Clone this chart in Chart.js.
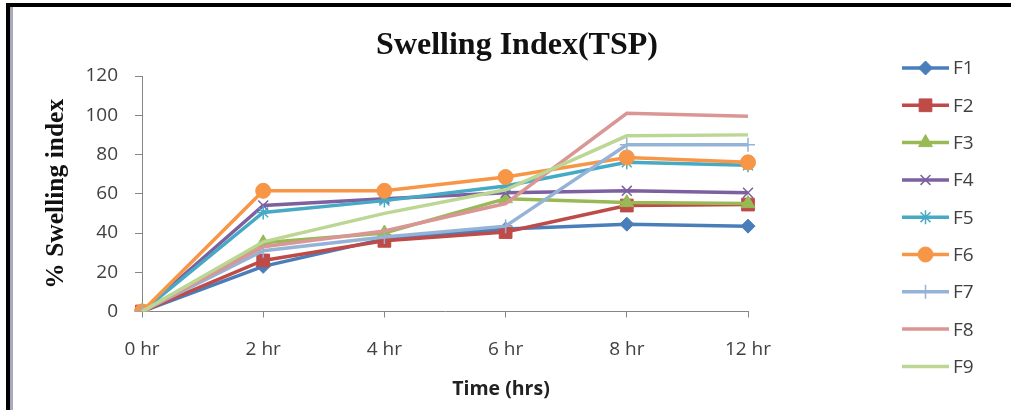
<!DOCTYPE html>
<html>
<head>
<meta charset="utf-8">
<title>Swelling Index(TSP)</title>
<script src="https://cdn.jsdelivr.net/npm/chart.js@4.4.0/dist/chart.umd.min.js"></script>
<style>
  html, body { margin: 0; padding: 0; background: #fff; }
  canvas { display: block; }
</style>
</head>
<body>
<canvas id="swelling-chart" width="1011" height="410"></canvas>
<script>
// values
const timeLabels = ['0 hr', '2 hr', '4 hr', '6 hr', '8 hr', '12 hr'];
const yTicks = [0, 20, 40, 60, 80, 100, 120];
const seriesNames = ['F1', 'F2', 'F3', 'F4', 'F5', 'F6', 'F7', 'F8', 'F9'];

const f1 = [0, 23, 37, 42, 44.5, 43.5];
const f2 = [0, 26, 36, 40.5, 54, 54.5];
const f3 = [0, 35, 40, 57.5, 55.5, 55];
const f4 = [0, 54, 57.5, 60.5, 61.5, 60.5];
const f5 = [0, 50.5, 56.5, 64, 76, 74.5];
const f6 = [0, 61.5, 61.5, 68.5, 78.5, 76];
const f7 = [0, 31, 38, 43.5, 85, 85];
const f8 = [0, 33, 41, 55, 101, 99.5];
const f9 = [0, 35.5, 50, 62, 89.5, 90];
const seriesValues = [f1, f2, f3, f4, f5, f6, f7, f8, f9];

// styling (excel 2007 palette)
const seriesColors = ['#4a7ebb', '#be4b48', '#98b954', '#7d60a0', '#46aac5',
                      '#f79646', '#95b3d7', '#d99694', '#bcd693'];
const markerStyles = ['rectRot', 'rect', 'triangle', 'crossRot', 'star', 'circle', 'cross', false, false];
const markerSizes = [7, 9, 8, 7, 7, 7.5, 7, 0, 0];
const markerBorders = [1, 1, 1, 1.5, 1.5, 1, 1.5, 0, 0];

Chart.defaults.font.family = '"Open Sans", sans-serif';
Chart.defaults.color = '#404040';

const datasets = seriesNames.map((name, i) => ({
    label: name,
    data: seriesValues[i],
    borderColor: seriesColors[i],
    backgroundColor: seriesColors[i],
    borderWidth: 3.5,
    pointStyle: markerStyles[i],
    pointRadius: markerSizes[i],
    pointBorderWidth: markerBorders[i],
    pointBackgroundColor: seriesColors[i],
    pointBorderColor: seriesColors[i],
    tension: 0,
    order: seriesNames.length - i
}));

const frameAndText = {
    id: 'frameAndText',
    beforeDraw(chart) {
        const ctx = chart.ctx;
        ctx.save();
        ctx.fillStyle = '#ffffff';
        ctx.fillRect(0, 0, chart.width, chart.height);
        ctx.fillStyle = '#000000';
        ctx.fillRect(6, 3, chart.width - 6, 4);
        ctx.fillRect(6, 3, 4, chart.height);
        ctx.fillStyle = '#a9a9bd';
        ctx.fillRect(10, 7, 3, chart.height);
        ctx.restore();
    },
    afterDraw(chart) {
        const ctx = chart.ctx;
        ctx.save();
        ctx.textAlign = 'center';
        ctx.textBaseline = 'middle';

        ctx.fillStyle = '#111111';
        ctx.font = 'bold 32px "Liberation Serif", "Times New Roman", serif';
        ctx.fillText('Swelling Index(TSP)', 517, 46);

        ctx.fillStyle = '#222222';
        ctx.font = 'bold 19.5px "Open Sans", sans-serif';
        ctx.fillText('Time (hrs)', 501, 389);

        // legend: line + marker + name
        ctx.textAlign = 'left';
        ctx.font = '19px "Open Sans", sans-serif';
        seriesNames.forEach((name, i) => {
            const y = 68 + i * 37.3;
            ctx.strokeStyle = seriesColors[i];
            ctx.lineWidth = 3.5;
            ctx.beginPath();
            ctx.moveTo(902, y);
            ctx.lineTo(949, y);
            ctx.stroke();
            if (markerStyles[i]) {
                ctx.fillStyle = seriesColors[i];
                ctx.lineWidth = markerBorders[i];
                Chart.helpers.drawPoint(ctx, {
                    pointStyle: markerStyles[i],
                    radius: markerSizes[i],
                    rotation: 0,
                    borderWidth: markerBorders[i]
                }, 925.5, y);
            }
            ctx.fillStyle = '#404040';
            ctx.fillText(name, 953, y + 1);
        });
        ctx.restore();
    }
};

const ctx = document.getElementById('swelling-chart').getContext('2d');
const chart = new Chart(ctx, {
    type: 'line',
    data: {
        labels: timeLabels,
        datasets: datasets
    },
    options: {
        responsive: false,
        animation: false,
        devicePixelRatio: 1,
        layout: {
            padding: { left: 12, right: 263, top: 76, bottom: 0 }
        },
        plugins: {
            legend: { display: false },
            title: { display: false },
            tooltip: { enabled: false }
        },
        scales: {
            x: {
                type: 'category',
                offset: false,
                afterFit: scale => { scale.height = 98.5; },
                grid: {
                    drawOnChartArea: false,
                    drawTicks: true,
                    tickLength: 6,
                    color: '#868686'
                },
                border: { display: true, color: '#868686', width: 1 },
                ticks: {
                    padding: 21,
                    maxRotation: 0,
                    autoSkip: false,
                    font: { size: 19 },
                    color: '#404040'
                }
            },
            y: {
                min: yTicks[0],
                max: yTicks[yTicks.length - 1],
                afterFit: scale => { scale.width = 130; },
                grid: {
                    drawOnChartArea: false,
                    drawTicks: true,
                    tickLength: 7,
                    color: '#868686'
                },
                border: { display: true, color: '#868686', width: 1 },
                ticks: {
                    stepSize: yTicks[1] - yTicks[0],
                    padding: 17,
                    font: { size: 19 },
                    color: '#404040'
                },
                title: {
                    display: true,
                    text: '% Swelling index',
                    color: '#111111',
                    font: { family: '"Liberation Serif", "Times New Roman", serif', size: 25.5, weight: 'bold' },
                    padding: { top: 29, bottom: 0 }
                }
            }
        }
    },
    plugins: [frameAndText]
});
</script>
</body>
</html>
